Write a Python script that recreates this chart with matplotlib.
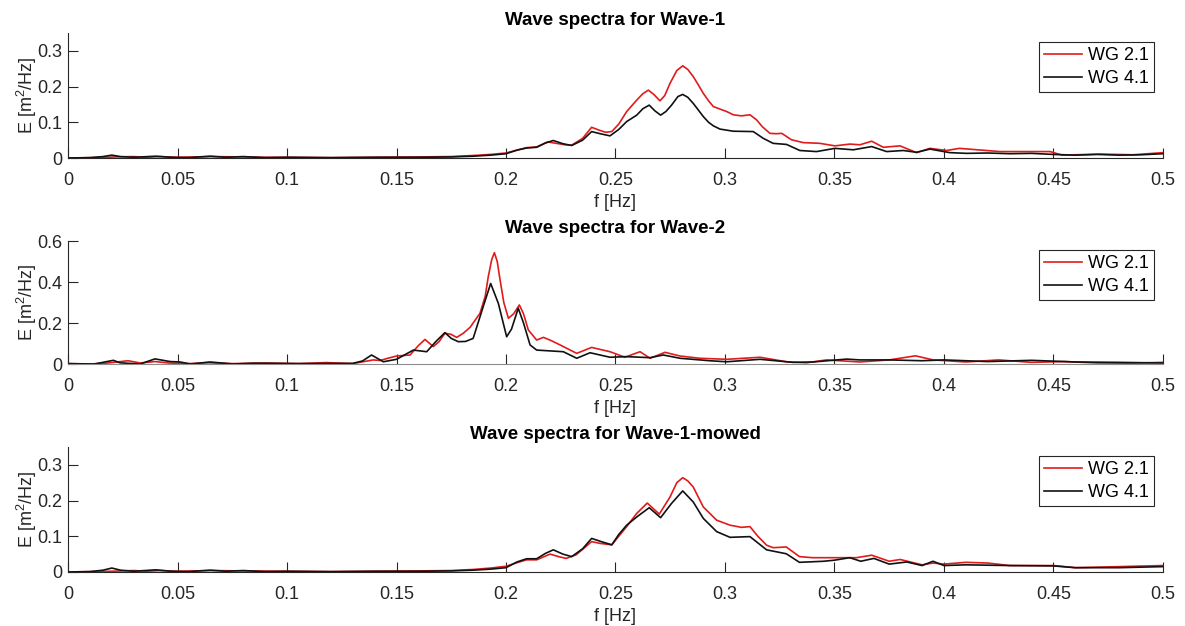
import matplotlib
matplotlib.use("Agg")
import matplotlib.pyplot as plt

plt.rcParams['font.family'] = ['Liberation Sans', 'DejaVu Sans']
plt.rcParams['mathtext.fontset'] = 'custom'
plt.rcParams['mathtext.rm'] = 'Liberation Sans'
plt.rcParams['mathtext.it'] = 'Liberation Sans'

titles = ["Wave spectra for Wave-1", "Wave spectra for Wave-2", "Wave spectra for Wave-1-mowed"]
names = ["WG 2.1", "WG 4.1"]
ymax = [0.35, 0.6, 0.35]
yticks = [[0, 0.1, 0.2, 0.3], [0, 0.2, 0.4, 0.6], [0, 0.1, 0.2, 0.3]]
xticks = [0, 0.05, 0.1, 0.15, 0.2, 0.25, 0.3, 0.35, 0.4, 0.45, 0.5]
xticklabels = ["0", "0.05", "0.1", "0.15", "0.2", "0.25", "0.3", "0.35", "0.4", "0.45", "0.5"]

# --- Wave-1 ---
f1_wg21 = [0, 0.01, 0.018, 0.022, 0.03, 0.035, 0.042, 0.05, 0.065, 0.08, 0.09, 0.1, 0.12, 0.14,
           0.16, 0.175, 0.185, 0.193, 0.2, 0.205, 0.2094, 0.214, 0.219, 0.223, 0.227, 0.23, 0.235,
           0.2391, 0.2425, 0.2455, 0.2483, 0.2515, 0.2551, 0.2597, 0.2625, 0.265, 0.2675, 0.2703,
           0.2725, 0.2749, 0.278, 0.2807, 0.283, 0.2855, 0.2878, 0.2901, 0.2925, 0.2947, 0.2977,
           0.3008, 0.3038, 0.3075, 0.3114, 0.3144, 0.317, 0.3205, 0.3235, 0.3259, 0.3304, 0.3358,
           0.34, 0.3434, 0.3502, 0.3571, 0.3616, 0.367, 0.3723, 0.3799, 0.3875, 0.3936, 0.4012,
           0.407, 0.4256, 0.4484, 0.454, 0.4712, 0.4863, 0.5]
e1_wg21 = [0, 0.001, 0.002, 0.003, 0.004, 0.002, 0.004, 0.002, 0.004, 0.003, 0.002, 0.002, 0.001, 0.002,
           0.003, 0.004, 0.007, 0.01, 0.014, 0.022, 0.029, 0.031, 0.045, 0.041, 0.037, 0.036, 0.055,
           0.086, 0.078, 0.072, 0.074, 0.095, 0.13, 0.162, 0.18, 0.19, 0.178, 0.16,
           0.175, 0.209, 0.245, 0.258, 0.248, 0.228, 0.205, 0.181, 0.16, 0.144, 0.137,
           0.13, 0.121, 0.118, 0.121, 0.107, 0.088, 0.069, 0.068, 0.069, 0.051, 0.043,
           0.042, 0.041, 0.034, 0.039, 0.037, 0.047, 0.03, 0.034, 0.015, 0.027, 0.021,
           0.027, 0.018, 0.018, 0.008, 0.011, 0.009, 0.015]
f1_wg41 = [0, 0.01, 0.016, 0.02, 0.024, 0.03, 0.04, 0.047, 0.055, 0.065, 0.072, 0.08, 0.09, 0.1,
           0.12, 0.14, 0.16, 0.175, 0.185, 0.193, 0.2, 0.205, 0.2094, 0.214, 0.218, 0.2216, 0.226,
           0.23, 0.235, 0.2391, 0.243, 0.2475, 0.2515, 0.2551, 0.2597, 0.2625, 0.2654, 0.268,
           0.2706, 0.273, 0.2756, 0.2785, 0.2807, 0.283, 0.2855, 0.288, 0.2901, 0.2925, 0.2947,
           0.2977, 0.3038, 0.3129, 0.3175, 0.322, 0.3281, 0.3342, 0.3418, 0.3502, 0.3586, 0.367,
           0.3738, 0.3814, 0.3875, 0.3936, 0.4027, 0.4104, 0.42, 0.43, 0.44, 0.45, 0.46, 0.47,
           0.48, 0.49, 0.5]
e1_wg41 = [0, 0.001, 0.004, 0.008, 0.004, 0.002, 0.005, 0.002, 0.001, 0.005, 0.002, 0.004, 0.001, 0.002,
           0.001, 0.002, 0.002, 0.003, 0.005, 0.008, 0.012, 0.022, 0.028, 0.03, 0.042, 0.049, 0.04,
           0.035, 0.05, 0.074, 0.068, 0.062, 0.08, 0.102, 0.12, 0.138, 0.148, 0.132,
           0.12, 0.13, 0.148, 0.172, 0.178, 0.17, 0.153, 0.133, 0.116, 0.1, 0.09,
           0.081, 0.075, 0.074, 0.055, 0.041, 0.038, 0.021, 0.018, 0.027, 0.023, 0.032,
           0.018, 0.021, 0.016, 0.025, 0.015, 0.013, 0.014, 0.012, 0.013, 0.01, 0.008, 0.01,
           0.008, 0.009, 0.012]

# --- Wave-2 ---
f2_wg21 = [0, 0.01, 0.0183, 0.0274, 0.033, 0.0397, 0.046, 0.055, 0.064, 0.075, 0.0907, 0.105,
           0.118, 0.13, 0.1394, 0.1425, 0.146, 0.15, 0.1562, 0.16, 0.163, 0.1668, 0.1695, 0.1721,
           0.1748, 0.1775, 0.1805, 0.1836, 0.1881, 0.1905, 0.1919, 0.1935, 0.1947, 0.196, 0.1973,
           0.199, 0.2011, 0.2035, 0.2061, 0.208, 0.2102, 0.214, 0.2171, 0.2205, 0.2247, 0.2323,
           0.2391, 0.2475, 0.2543, 0.2612, 0.2658, 0.2726, 0.2795, 0.2886, 0.3008, 0.316, 0.3281,
           0.3372, 0.3464, 0.3616, 0.375, 0.387, 0.395, 0.41, 0.425, 0.44, 0.455, 0.47, 0.485, 0.5]
e2_wg21 = [0.002, 0.0, 0.005, 0.016, 0.005, 0.012, 0.005, 0.002, 0.006, 0.002, 0.005, 0.002,
           0.007, 0.002, 0.02, 0.017, 0.028, 0.039, 0.044, 0.09, 0.12, 0.085, 0.11, 0.15,
           0.145, 0.13, 0.15, 0.179, 0.247, 0.33, 0.426, 0.51, 0.543, 0.5, 0.41,
           0.3, 0.223, 0.245, 0.288, 0.245, 0.166, 0.117, 0.13, 0.115, 0.093, 0.052,
           0.081, 0.06, 0.033, 0.06, 0.028, 0.057, 0.039, 0.028, 0.023, 0.033, 0.011,
           0.006, 0.02, 0.01, 0.02, 0.04, 0.02, 0.01, 0.02, 0.008, 0.012, 0.005, 0.004, 0.008]
f2_wg41 = [0, 0.012, 0.0207, 0.0237, 0.0329, 0.0397, 0.0466, 0.0511, 0.056, 0.0648, 0.0755, 0.0846,
           0.106, 0.13, 0.1345, 0.1386, 0.144, 0.15, 0.1577, 0.1638, 0.168, 0.1721, 0.175, 0.1782,
           0.1815, 0.185, 0.1896, 0.193, 0.1965, 0.2003, 0.2025, 0.2056, 0.208, 0.211, 0.214,
           0.2262, 0.2323, 0.2384, 0.2475, 0.2551, 0.2658, 0.2718, 0.2795, 0.2931, 0.3008, 0.316,
           0.3312, 0.3403, 0.3555, 0.3616, 0.375, 0.39, 0.4, 0.42, 0.44, 0.46, 0.48, 0.5]
e2_wg41 = [0.002, 0.0, 0.018, 0.006, 0.0, 0.025, 0.012, 0.01, 0.0, 0.01, 0.0, 0.004,
           0.002, 0.003, 0.015, 0.044, 0.011, 0.023, 0.068, 0.06, 0.11, 0.153, 0.125, 0.109,
           0.11, 0.125, 0.28, 0.393, 0.296, 0.133, 0.17, 0.272, 0.2, 0.093, 0.068,
           0.06, 0.028, 0.055, 0.033, 0.036, 0.031, 0.044, 0.028, 0.016, 0.011, 0.023,
           0.008, 0.01, 0.024, 0.02, 0.02, 0.016, 0.02, 0.012, 0.018, 0.01, 0.008, 0.005]

# --- Wave-1-mowed ---
f3_wg21 = [0, 0.01, 0.02, 0.03, 0.036, 0.042, 0.05, 0.065, 0.08, 0.1, 0.12, 0.14, 0.16, 0.175,
           0.185, 0.193, 0.2, 0.205, 0.2094, 0.214, 0.2201, 0.224, 0.2275, 0.232, 0.2391, 0.243,
           0.2483, 0.2515, 0.2551, 0.2597, 0.2645, 0.27, 0.2749, 0.278, 0.2807, 0.283, 0.2855,
           0.2901, 0.2962, 0.3023, 0.3075, 0.3114, 0.315, 0.319, 0.322, 0.328, 0.334, 0.34, 0.35,
           0.36, 0.367, 0.375, 0.38, 0.39, 0.395, 0.4, 0.41, 0.42, 0.43, 0.45, 0.46, 0.48, 0.5]
e3_wg21 = [0, 0.001, 0.002, 0.004, 0.002, 0.004, 0.002, 0.004, 0.003, 0.002, 0.001, 0.002, 0.003, 0.004,
           0.007, 0.011, 0.016, 0.026, 0.034, 0.034, 0.05, 0.043, 0.038, 0.048, 0.085, 0.08,
           0.076, 0.1, 0.127, 0.164, 0.193, 0.162, 0.21, 0.25, 0.264, 0.255, 0.238,
           0.182, 0.145, 0.131, 0.125, 0.127, 0.1, 0.075, 0.068, 0.07, 0.043, 0.04, 0.04,
           0.04, 0.047, 0.03, 0.035, 0.02, 0.025, 0.022, 0.027, 0.025, 0.018, 0.018, 0.012, 0.015, 0.018]
f3_wg41 = [0, 0.01, 0.016, 0.02, 0.024, 0.03, 0.04, 0.047, 0.055, 0.065, 0.072, 0.08, 0.09, 0.1,
           0.12, 0.14, 0.16, 0.175, 0.185, 0.193, 0.2, 0.205, 0.2094, 0.214, 0.218, 0.2216, 0.226,
           0.23, 0.235, 0.2391, 0.2435, 0.2483, 0.2515, 0.2551, 0.2597, 0.2654, 0.2706, 0.2756,
           0.2807, 0.2855, 0.2901, 0.2962, 0.3023, 0.3114, 0.319, 0.328, 0.334, 0.345, 0.35, 0.357,
           0.362, 0.368, 0.375, 0.383, 0.39, 0.395, 0.4, 0.41, 0.43, 0.45, 0.46, 0.48, 0.5]
e3_wg41 = [0, 0.001, 0.005, 0.011, 0.005, 0.002, 0.006, 0.002, 0.001, 0.005, 0.002, 0.004, 0.001, 0.002,
           0.001, 0.002, 0.002, 0.003, 0.005, 0.008, 0.012, 0.028, 0.037, 0.037, 0.052, 0.062, 0.05,
           0.043, 0.065, 0.094, 0.085, 0.076, 0.105, 0.131, 0.154, 0.18, 0.152, 0.192,
           0.227, 0.196, 0.15, 0.113, 0.097, 0.099, 0.062, 0.051, 0.027, 0.03, 0.033, 0.04,
           0.03, 0.038, 0.022, 0.028, 0.018, 0.03, 0.018, 0.02, 0.018, 0.017, 0.012, 0.012, 0.015]

panels = [(f1_wg21, e1_wg21, f1_wg41, e1_wg41),
          (f2_wg21, e2_wg21, f2_wg41, e2_wg41),
          (f3_wg21, e3_wg21, f3_wg41, e3_wg41)]

fig = plt.figure(figsize=(11.85, 6.26), dpi=100)
boxes = [[0.0574, 0.7476, 0.924, 0.1997],
         [0.0574, 0.4185, 0.924, 0.1965],
         [0.0574, 0.0863, 0.924, 0.1997]]
axc = '#262626'
fs = 13

for i, (fr, er, fb, eb) in enumerate(panels):
    ax = fig.add_axes(boxes[i])
    ax.plot(fr, er, color='#e01b1b', lw=1.2, label=names[0])
    ax.plot(fb, eb, color='#111111', lw=1.2, label=names[1])
    ax.set_xlim(0, 0.5)
    ax.set_ylim(0, ymax[i])
    ax.set_xticks(xticks, labels=xticklabels)
    ax.set_yticks(yticks[i], labels=[f"{v:g}" for v in yticks[i]])
    ax.spines['top'].set_visible(False)
    ax.spines['right'].set_visible(False)
    for s in ['left', 'bottom']:
        ax.spines[s].set_color(axc)
        ax.spines[s].set_linewidth(0.8)
    if i == 1:
        # the zero line of the middle panel looks lighter in the original
        ax.spines['bottom'].set_color('#8c8c8c')
    ax.tick_params(direction='in', length=7, width=0.8, color=axc, labelcolor=axc, labelsize=fs)
    ax.tick_params(axis='x', pad=10)
    ax.tick_params(axis='y', pad=4)
    ax.set_xlabel('f [Hz]', fontsize=fs, color=axc, labelpad=4)
    ax.set_ylabel('E [m$^2$/Hz]', fontsize=fs, color=axc, labelpad=-1)
    ax.set_title(titles[i], fontsize=13.5, fontweight='bold', pad=6)
    leg = ax.legend(loc='upper right', fontsize=fs, fancybox=False, framealpha=1,
                    edgecolor=axc, handlelength=2.1, handletextpad=0.3,
                    borderaxespad=0.5, labelspacing=0.3, borderpad=0.3)
    leg.get_frame().set_linewidth(0.8)

fig.savefig('out.png', dpi=100)
